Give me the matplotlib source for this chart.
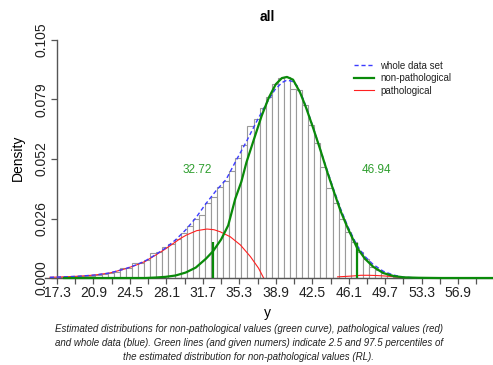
import numpy as np
import matplotlib
matplotlib.use("Agg")
from matplotlib import pyplot as plt

plt.rcParams['font.family'] = ['Liberation Sans', 'DejaVu Sans']

# histogram (bin width 0.6), heights
bin_left = [17.5 + 0.6 * i for i in range(58)]
bar_heights = [0.0003, 0.0004, 0.0005, 0.0007, 0.0009, 0.0011, 0.0013, 0.0016, 0.0021, 0.0028,
               0.0042, 0.0046, 0.0065, 0.0066, 0.0079, 0.0109, 0.0116, 0.0138, 0.0150, 0.0170,
               0.0200, 0.0228, 0.0262, 0.0280, 0.0330, 0.0358, 0.0400, 0.0430, 0.0470, 0.0528,
               0.0587, 0.0670, 0.0700, 0.0751, 0.0800, 0.0856, 0.0881, 0.0888, 0.0832, 0.0829,
               0.0763, 0.0675, 0.0594, 0.0491, 0.0396, 0.0330, 0.0260, 0.0204, 0.0160, 0.0116,
               0.0082, 0.0050, 0.0035, 0.0023, 0.0013, 0.0006, 0.0003, 0.0001]

# whole data set (blue dashed)
blue_x = [16.6, 18.0, 19.5, 21.0, 22.5, 24.0, 25.0, 26.0, 27.0, 28.0, 29.0, 30.0, 31.0, 32.0,
          33.0, 34.0, 35.0, 36.0, 37.0, 38.0, 38.8, 39.5, 40.0, 40.5, 41.0, 41.6, 42.2, 42.8,
          43.6, 44.6, 45.3, 46.0, 46.9, 47.7, 48.5, 49.5, 50.5, 51.5, 52.5, 54.0]
blue_y = [0.0003, 0.0005, 0.0008, 0.0013, 0.0022, 0.0040, 0.0056, 0.0075, 0.0102, 0.0132,
          0.0168, 0.0212, 0.0265, 0.0328, 0.0385, 0.0435, 0.0520, 0.0602, 0.0690, 0.0772,
          0.0830, 0.0862, 0.0873, 0.0868, 0.0848, 0.0790, 0.0716, 0.0635, 0.0525, 0.0392,
          0.0305, 0.0228, 0.0145, 0.0095, 0.0060, 0.0030, 0.0013, 0.0004, 0.0001, 0.0000]

# non-pathological (green)
green_x = [18.0, 26.0, 27.0, 28.0, 29.0, 30.0, 31.0, 32.0, 32.7, 33.5, 34.2, 34.9, 35.5, 36.0,
           36.8, 37.5, 38.2, 38.9, 39.5, 40.0, 40.6, 41.3, 41.9, 42.6, 43.3, 44.0, 44.6, 45.3,
           46.0, 46.9, 47.7, 48.5, 49.5, 50.5, 51.5, 53.0, 55.0, 60.4]
green_y = [0.0, 0.0, 0.0002, 0.0005, 0.0011, 0.0024, 0.0046, 0.0085, 0.0118, 0.0170, 0.0232,
           0.0350, 0.0425, 0.0510, 0.0620, 0.0715, 0.0795, 0.0855, 0.0882, 0.0887, 0.0875,
           0.0818, 0.0750, 0.0660, 0.0565, 0.0465, 0.0385, 0.0295, 0.0220, 0.0135, 0.0085,
           0.0050, 0.0022, 0.0009, 0.0003, 0.0001, 0.0, 0.0]

# pathological (red), two parts
red_x = [16.6, 18.0, 19.5, 21.0, 22.5, 24.0, 25.0, 26.0, 27.0, 28.0, 28.8, 29.5, 30.1, 31.1,
         32.1, 32.8, 33.4, 34.4, 35.4, 36.4, 37.2, 37.7]
red_y = [0.0003, 0.0005, 0.0008, 0.0013, 0.0022, 0.0040, 0.0055, 0.0073, 0.0100, 0.0128,
         0.0153, 0.0175, 0.0190, 0.0209, 0.0216, 0.0213, 0.0204, 0.0182, 0.0146, 0.0094,
         0.0043, 0.0]
red2_x = [45.0, 45.8, 46.5, 47.3, 48.0, 48.8, 49.6, 50.5, 51.5]
red2_y = [0.0005, 0.0007, 0.0009, 0.0012, 0.0012, 0.0011, 0.0009, 0.0006, 0.0002]

# 2.5 / 97.5 percentiles
rl = [32.72, 46.94]
rl_top = [0.0159, 0.0155]

xticks = [17.3 + 1.8 * i for i in range(24)]
xlabels = ['%.1f' % t if i % 2 == 0 else '' for i, t in enumerate(xticks)]
yticks = [0.0, 0.02625, 0.0525, 0.07875, 0.105]
ylabels = ['0.000', '0.026', '0.052', '0.079', '0.105']

W, H = 493, 365
fig = plt.figure(figsize=(W / 100, H / 100), dpi=100)
# x: 17.3 -> 57px, 10.13 px/unit ; y: 0 -> 278px, 0.105 -> 40px
px_x = 10.13
px_y = 238 / 0.105
x0 = 17.3 - 12 / px_x
x1 = 17.3 + (W - 57) / px_x
y0, y1 = -0.003, 0.108
ax = fig.add_axes([45 / W, (H - (278 + 0.003 * px_y)) / H, (W - 45) / W, (y1 - y0) * px_y / H])
ax.set_xlim(x0, x1)
ax.set_ylim(y0, y1)
ax.patch.set_alpha(0)

ax.bar(bin_left, bar_heights, width=0.6, align='edge', facecolor='white',
       edgecolor='#9a9a9a', linewidth=0.8, zorder=1)
ax.plot(blue_x, blue_y, color='#3b3bff', lw=1.0, ls=(0, (3, 2)), zorder=3,
        label='whole data set', clip_on=False)
ax.plot(green_x, green_y, color='#0a8a0a', lw=1.6, zorder=4, label='non-pathological',
        clip_on=False)
ax.plot(red_x, red_y, color='#ff2020', lw=0.8, zorder=2, label='pathological', clip_on=False)
ax.plot(red2_x, red2_y, color='#ff2020', lw=0.8, zorder=2, clip_on=False)
ax.vlines(rl, 0, rl_top, color='#0a8a0a', lw=1.6, zorder=4)

ax.text(31.1, 0.0476, '%.2f' % rl[0], color='#2e9e2e', fontsize=8.5, ha='center', va='center')
ax.text(48.8, 0.0476, '%.2f' % rl[1], color='#2e9e2e', fontsize=8.5, ha='center', va='center')

for s in ['top', 'right']:
    ax.spines[s].set_visible(False)
ax.spines['left'].set_position(('data', 17.3))
ax.spines['left'].set_bounds(0, 0.105)
ax.spines['bottom'].set_position(('data', 0))
for s in ['left', 'bottom']:
    ax.spines[s].set_color('#555555')
    ax.spines[s].set_linewidth(1.0)

ax.set_xticks(xticks)
ax.set_xticklabels(xlabels)
ax.set_yticks(yticks)
ax.set_yticklabels(ylabels, rotation=90, va='center')
ax.tick_params(axis='both', length=4, width=0.9, color='#555555', labelsize=10,
               labelcolor='#222222', pad=2)

leg = ax.legend(loc='upper left', bbox_to_anchor=(349 / W, 1 - 56 / H),
                bbox_transform=fig.transFigure, frameon=False, fontsize=7,
                handlelength=2.1, handletextpad=0.6, labelspacing=0.25, borderpad=0)
for t in leg.get_texts():
    t.set_color('#222222')

fig.text(267 / W, 1 - 17 / H, 'all', fontsize=10, fontweight='bold', ha='center', va='center')
fig.text(18 / W, 1 - 158 / H, 'Density', fontsize=10, rotation=90, ha='center', va='center')
fig.text(267 / W, 1 - 313 / H, 'y', fontsize=10, ha='center', va='center')
caption = ("Estimated distributions for non-pathological values (green curve), pathological values (red)\n"
           "and whole data (blue). Green lines (and given numers) indicate 2.5 and 97.5 percentiles of\n"
           "the estimated distribution for non-pathological values (RL).")
fig.text(249 / W, 1 - 343 / H, caption, fontsize=7.0, style='italic', ha='center', va='center',
         linespacing=1.45, color='#222222')

fig.savefig('out.png', dpi=100)
